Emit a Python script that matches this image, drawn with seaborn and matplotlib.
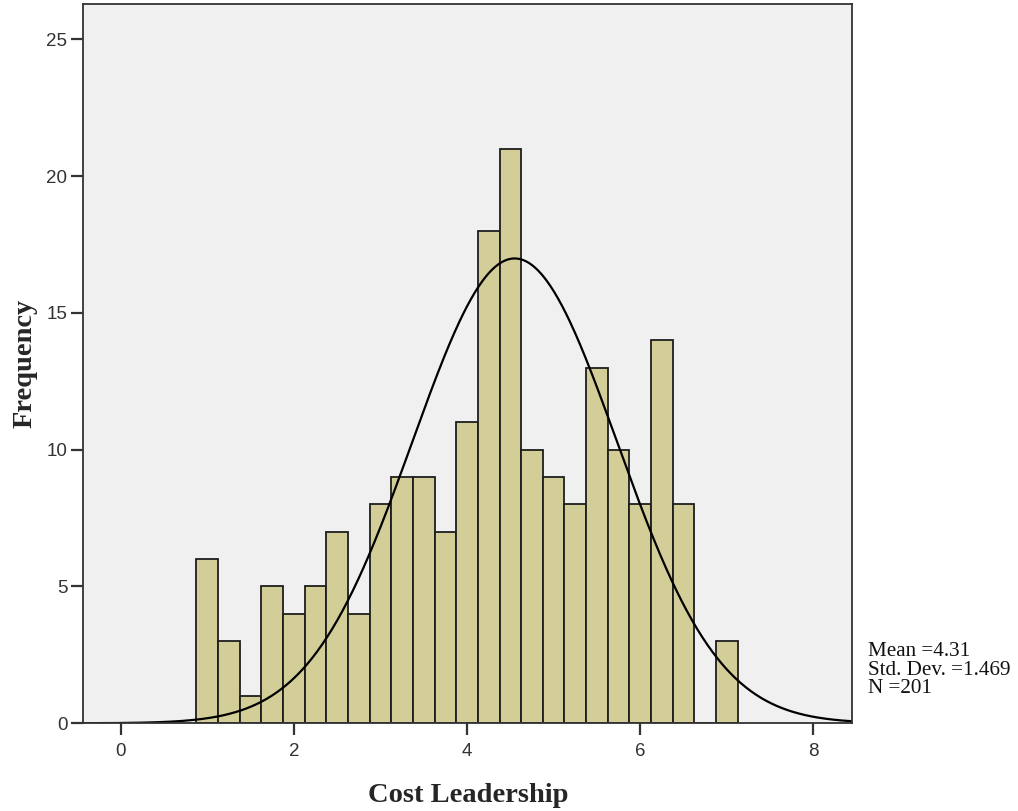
import numpy as np
import pandas as pd
import matplotlib
matplotlib.use("Agg")
import matplotlib.pyplot as plt
import seaborn as sns

# Histogram of Cost Leadership scores (bin width 0.25)
bin_start = 0.875
bin_width = 0.25
counts = [6, 3, 1, 5, 4, 5, 7, 4, 8, 9, 9, 7, 11, 18, 21, 10, 9, 8, 13, 10, 8, 14, 8, 0, 3]

# Summary statistics shown beside the plot
stat_mean = 4.31
stat_sd = 1.469
stat_n = 201

# Fitted normal curve
curve_center = 4.55
curve_sd = 1.18

x_ticks = [0, 2, 4, 6, 8]
y_ticks = [0, 5, 10, 15, 20, 25]

sns.set_style("white")

edges = [float(e) for e in bin_start + bin_width * np.arange(len(counts) + 1)]
centers = [e + bin_width / 2 for e in edges[:-1]]
df = pd.DataFrame({"value": centers, "count": counts})

fig = plt.figure(figsize=(10.18, 8.11), dpi=100)
ax = fig.add_axes([0.0818, 0.1082, 0.7555, 0.8869])
ax.set_facecolor("#F0F0F0")

sns.histplot(data=df, x="value", weights="count", bins=edges, ax=ax,
             color="#D3CE97", alpha=1.0, edgecolor="#1E1E1E", linewidth=1.3)

xlim = (-0.432, 8.45)
xs = np.linspace(xlim[0], xlim[1], 600)
ys = stat_n * bin_width * np.exp(-0.5 * ((xs - curve_center) / curve_sd) ** 2) / (curve_sd * np.sqrt(2 * np.pi))
sns.lineplot(x=xs, y=ys, ax=ax, color="black", linewidth=1.6)

ax.set_xlim(*xlim)
ax.set_ylim(0, 26.29)
ax.set_xticks(x_ticks)
ax.set_yticks(y_ticks)

tick_font = {"family": "Liberation Sans", "size": 13.5}
ax.set_xticklabels([str(t) for t in x_ticks], fontdict=tick_font, color="#333333")
ax.set_yticklabels([str(t) for t in y_ticks], fontdict=tick_font, color="#333333")
ax.tick_params(axis="both", which="major", direction="out", length=8.5, width=1.6,
               color="#333333", bottom=True, left=True, top=False, right=False)
ax.tick_params(axis="x", pad=6)
ax.tick_params(axis="y", pad=3)

for s in ax.spines.values():
    s.set_visible(True)
    s.set_color("#333333")
    s.set_linewidth(1.3)

label_font = {"family": "Liberation Serif", "size": 20.5, "weight": "bold"}
ax.set_xlabel("Cost Leadership", fontdict=label_font, labelpad=16)
ax.set_ylabel("Frequency", fontdict=label_font, labelpad=6)

stats_text = f"Mean ={stat_mean:.2f}\nStd. Dev. ={stat_sd:.3f}\nN ={stat_n}"
fig.text(868 / 1018, 1 - 693 / 811, stats_text, family="Liberation Serif", fontsize=15.2,
         ha="left", va="baseline", linespacing=0.95, color="#111111")

fig.savefig("out.png", dpi=100)
